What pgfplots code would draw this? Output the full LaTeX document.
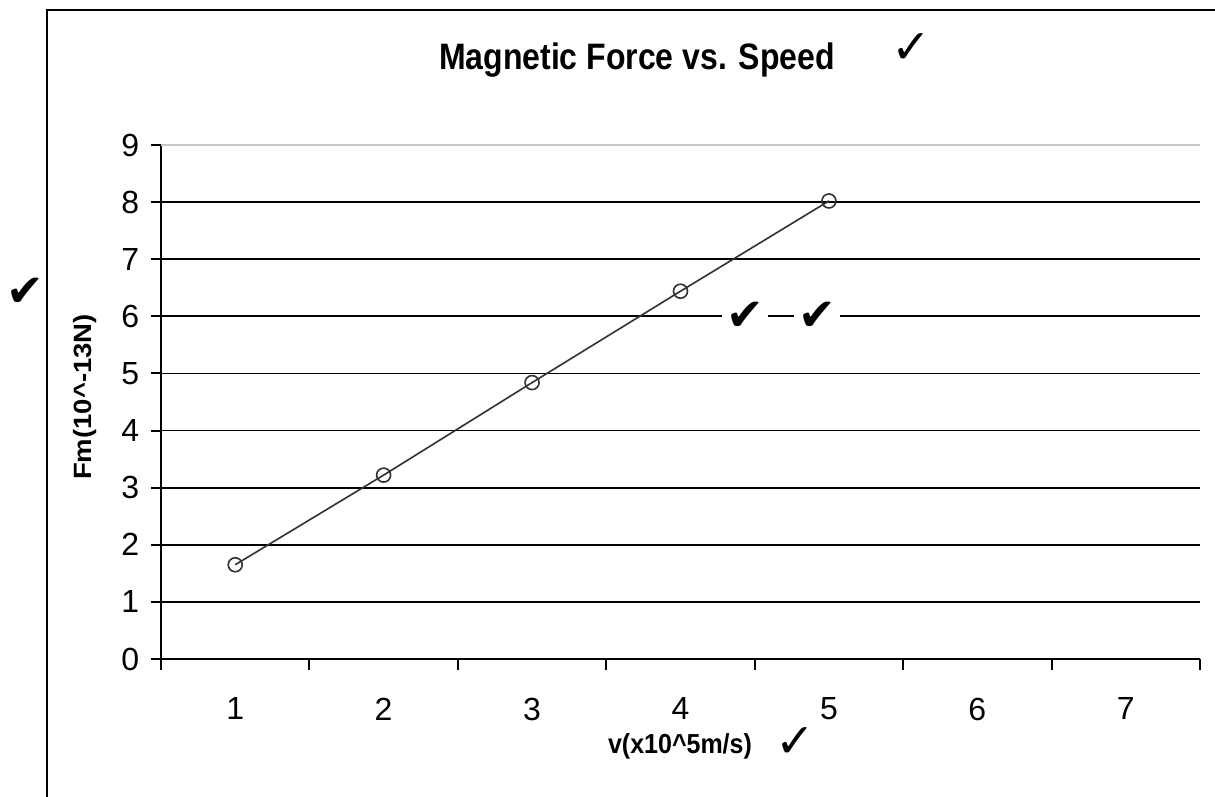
\documentclass[border=0pt]{standalone}
\usepackage{fontspec}
\setmainfont{Liberation Sans}
\newfontfamily\symfont{DejaVu Sans}
\usepackage{pgfplots}
\pgfplotsset{compat=1.18}

\begin{document}
\begin{tikzpicture}[x=0.4pt,y=0.4pt]
\useasboundingbox (0,0) rectangle (1215,796);
% outer chart frame (cropped at right and bottom)
\draw[line width=0.8pt] (47,-5) -- (47,786) -- (1225,786);

\begin{axis}[
    at={(64.4pt,54.8pt)}, anchor=south west,
    scale only axis,
    width=415.6pt, height=205.6pt,
    xmin=0.5, xmax=7.5,
    ymin=0, ymax=9,
    axis x line=bottom, axis y line=left,
    axis line style={line width=0.85pt, -},
    xtick={0.5,1.5,...,7.5}, xticklabels={},
    extra x ticks={1,2,3,4,5,6,7},
    extra x tick style={major tick length=0pt, grid=none},
    ytick={0,1,...,8},
    extra y ticks={9},
    extra y tick style={major grid style={gray!45, line width=0.6pt}},
    tick align=outside,
    major tick length=4.2pt,
    tick style={black, line width=0.8pt},
    ymajorgrids,
    major grid style={black, line width=0.7pt},
    tick label style={font=\fontsize{12.8}{14}\selectfont},
    /pgf/number format/assume math mode=true,
    xticklabel style={yshift=-12pt},
    yticklabel style={xshift=-1pt},
    clip=false,
]

\addplot[color=black!80, line width=0.65pt, mark=o, mark size=2.8pt,
    mark options={line width=0.65pt}] coordinates {
    (1, 1.65)
    (2, 3.22)
    (3, 4.84)
    (4, 6.44)
    (5, 8.02)
};

\end{axis}

% titles
\node[font=\bfseries\fontsize{12.8}{15}\selectfont, yscale=1.15] at (637,736) {Magnetic Force vs. Speed};
\node[font=\bfseries\fontsize{10}{12}\selectfont, yscale=1.1] at (680,50) {v(x10\^{}5m/s)};
\node[font=\bfseries\fontsize{10}{12}\selectfont, rotate=90, xscale=1.1] at (85,399) {Fm(10\^{}-13N)};

% marks of the grader
\node[font=\symfont\fontsize{18}{18}\selectfont] at (25,504) {✔};
\node[font=\symfont\fontsize{18}{18}\selectfont, fill=white, inner sep=1.5pt] at (745,480) {✔};
\node[font=\symfont\fontsize{18}{18}\selectfont, fill=white, inner sep=1.5pt] at (817,480) {✔};
\node[font=\symfont\bfseries\fontsize{19}{19}\selectfont] at (911,747) {✓};
\node[font=\symfont\bfseries\fontsize{19}{19}\selectfont] at (795,53) {✓};
\end{tikzpicture}
\end{document}
